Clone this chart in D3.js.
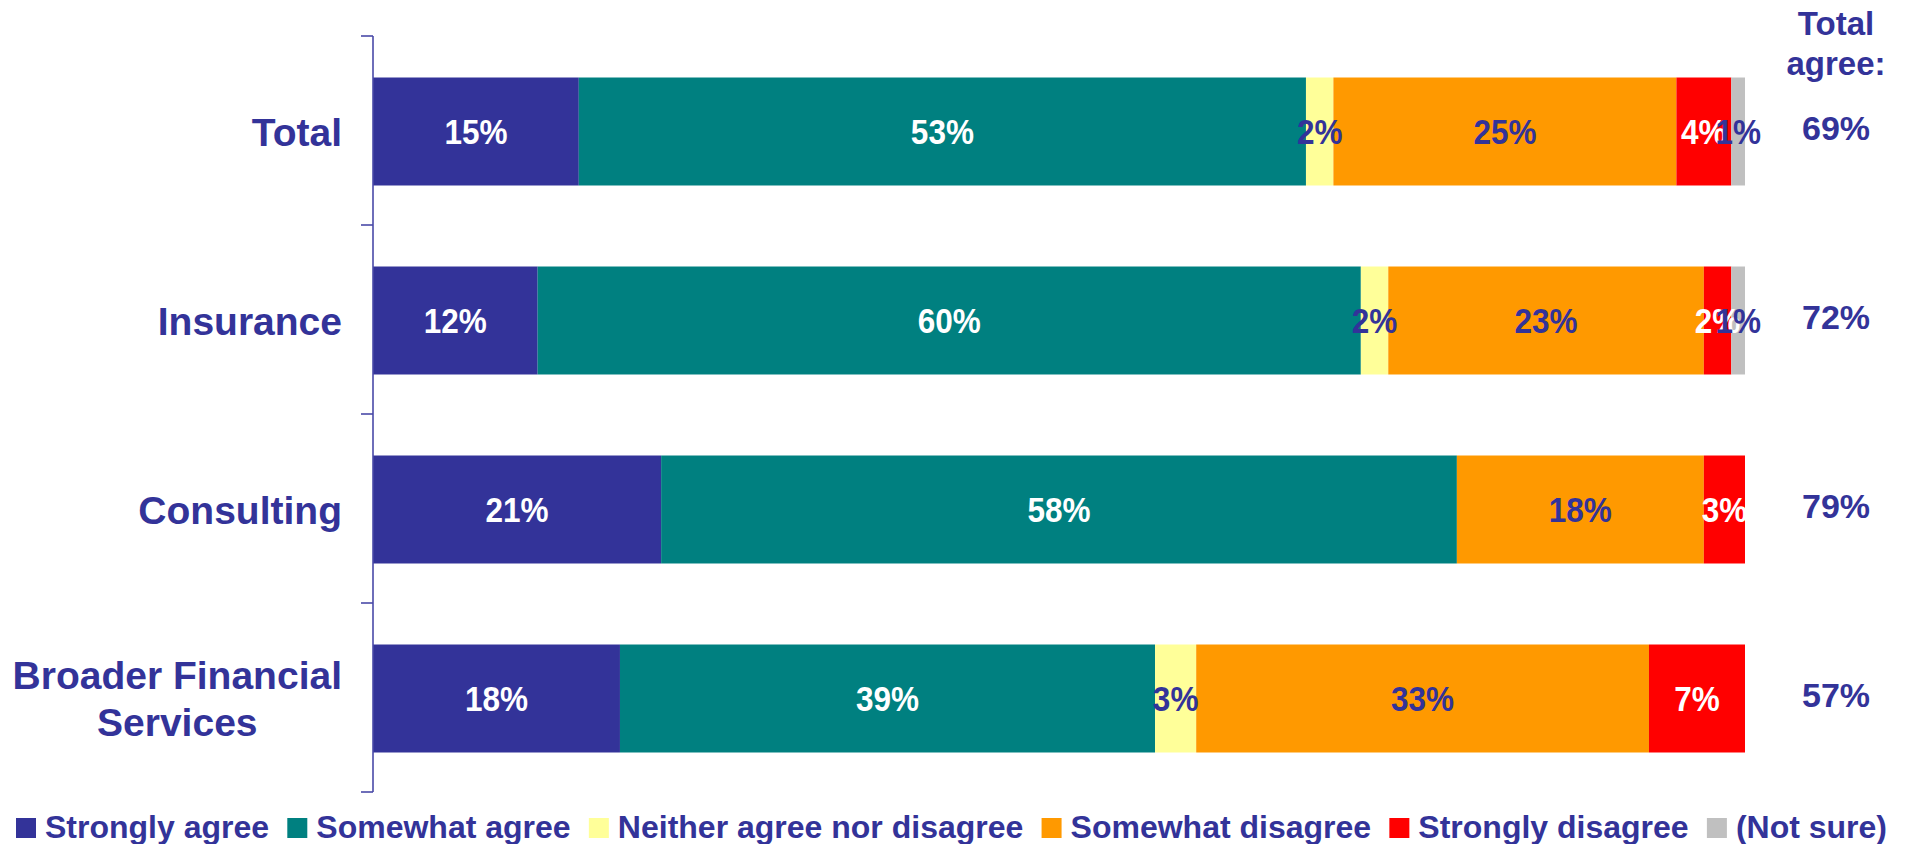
<!DOCTYPE html>
<html>
<head>
<meta charset="utf-8">
<script src="https://cdn.jsdelivr.net/npm/d3@7"></script>
<style>
  html, body { margin: 0; padding: 0; background: #ffffff; }
  svg { display: block; }
  text { font-family: "Liberation Sans", Arial, Helvetica, sans-serif; font-weight: bold; }
</style>
</head>
<body>
<svg id="chart" width="1911" height="844"></svg>
<script>
// ---- Data ----
const categories = ["Total", "Insurance", "Consulting", "Broader Financial Services"];
const categoryLines = [["Total"], ["Insurance"], ["Consulting"], ["Broader Financial", "Services"]];
const seriesNames = ["Strongly agree", "Somewhat agree", "Neither agree nor disagree", "Somewhat disagree", "Strongly disagree", "(Not sure)"];
const stronglyAgree   = [15, 12, 21, 18];
const somewhatAgree   = [53, 60, 58, 39];
const neitherAgree    = [2, 2, 0, 3];
const somewhatDisagree= [25, 23, 18, 33];
const stronglyDisagree= [4, 2, 3, 7];
const notSure         = [1, 1, 0, 0];
const totalAgree      = [69, 72, 79, 57];
const totalAgreeTitle = ["Total", "agree:"];

// ---- Styles ----
const colors = ["#333399", "#008080", "#FFFF99", "#FF9900", "#FF0000", "#C0C0C0"];
const labelColors = ["#ffffff", "#ffffff", "#333399", "#333399", "#ffffff", "#333399"];
const ink = "#333399";

const seriesValues = [stronglyAgree, somewhatAgree, neitherAgree, somewhatDisagree, stronglyDisagree, notSure];
const rows = categories.map((c, i) => {
  const r = { category: c };
  seriesNames.forEach((s, j) => r[s] = seriesValues[j][i]);
  return r;
});
const stacked = d3.stack().keys(seriesNames)(rows);

const svg = d3.select("#chart");
const x = d3.scaleLinear().domain([0, 100]).range([373, 1745]);
const y = d3.scaleBand().domain(categories).range([36, 792])
  .paddingInner(0.4286).paddingOuter(0.2143);
const off = 1;

// bars
const layers = svg.append("g").selectAll("g").data(stacked).join("g")
  .attr("fill", (d, i) => colors[i]);
layers.selectAll("rect").data(d => d).join("rect")
  .attr("x", d => x(d[0]))
  .attr("y", d => y(d.data.category) + off)
  .attr("width", d => x(d[1]) - x(d[0]))
  .attr("height", y.bandwidth());

// axis (line with ticks at band boundaries)
const step = y.step();
const y0 = y.range()[0];
const ax = svg.append("g").attr("stroke", "#4a4aa8").attr("stroke-width", 1.6);
ax.append("line").attr("x1", x(0)).attr("x2", x(0)).attr("y1", y0).attr("y2", y0 + step * categories.length);
d3.range(categories.length + 1).forEach(i => {
  ax.append("line").attr("x1", x(0) - 12).attr("x2", x(0))
    .attr("y1", y0 + i * step).attr("y2", y0 + i * step);
});

// value labels
const vl = svg.append("g");
stacked.forEach((layer, i) => {
  layer.forEach(d => {
    const v = d[1] - d[0];
    if (v <= 0) return;
    const cx = (x(d[0]) + x(d[1])) / 2;
    const cy = y(d.data.category) + off + y.bandwidth() / 2;
    vl.append("text")
      .attr("transform", `translate(${cx},${cy + 12.5}) scale(0.9,1)`)
      .attr("text-anchor", "middle")
      .attr("font-size", 35)
      .attr("fill", labelColors[i])
      .text(d3.format(".0f")(v) + "%");
  });
});

// category labels
const cl = svg.append("g");
categories.forEach((c, i) => {
  const lines = categoryLines[i];
  const cy = y(c) + off + y.bandwidth() / 2;
  const lh = 47.7;
  const g = cl.append("g");
  const texts = lines.map((t, k) => g.append("text")
    .attr("font-size", 39).attr("fill", ink).attr("text-anchor", "middle")
    .attr("y", cy + 14 + (k - (lines.length - 1) / 2) * lh)
    .text(t));
  const maxW = d3.max(texts, t => t.node().getComputedTextLength());
  texts.forEach(t => t.attr("x", 342 - maxW / 2));
});

// total agree column
const ta = svg.append("g").attr("fill", ink).attr("text-anchor", "middle");
totalAgreeTitle.forEach((t, k) => {
  ta.append("text").attr("x", 1836).attr("y", 35 + k * 40).attr("font-size", 33).text(t);
});
categories.forEach((c, i) => {
  const cy = y(c) + off + y.bandwidth() / 2;
  ta.append("text").attr("x", 1836).attr("y", cy + 8.5).attr("font-size", 34)
    .text(totalAgree[i] + "%");
});

// legend
const lg = svg.append("g");
const items = seriesNames.map((s, i) => {
  const g = lg.append("g");
  g.append("rect").attr("width", 20).attr("height", 20).attr("y", 818).attr("fill", colors[i]);
  const t = g.append("text").attr("x", 29).attr("y", 838).attr("font-size", 32).attr("fill", ink).text(s);
  return { g, w: 29 + t.node().getComputedTextLength() };
});
const totalW = d3.sum(items, d => d.w);
const gap = (1887 - 16 - totalW) / (items.length - 1);
let lx = 16;
items.forEach(it => { it.g.attr("transform", `translate(${lx},0)`); lx += it.w + gap; });
</script>
</body>
</html>
